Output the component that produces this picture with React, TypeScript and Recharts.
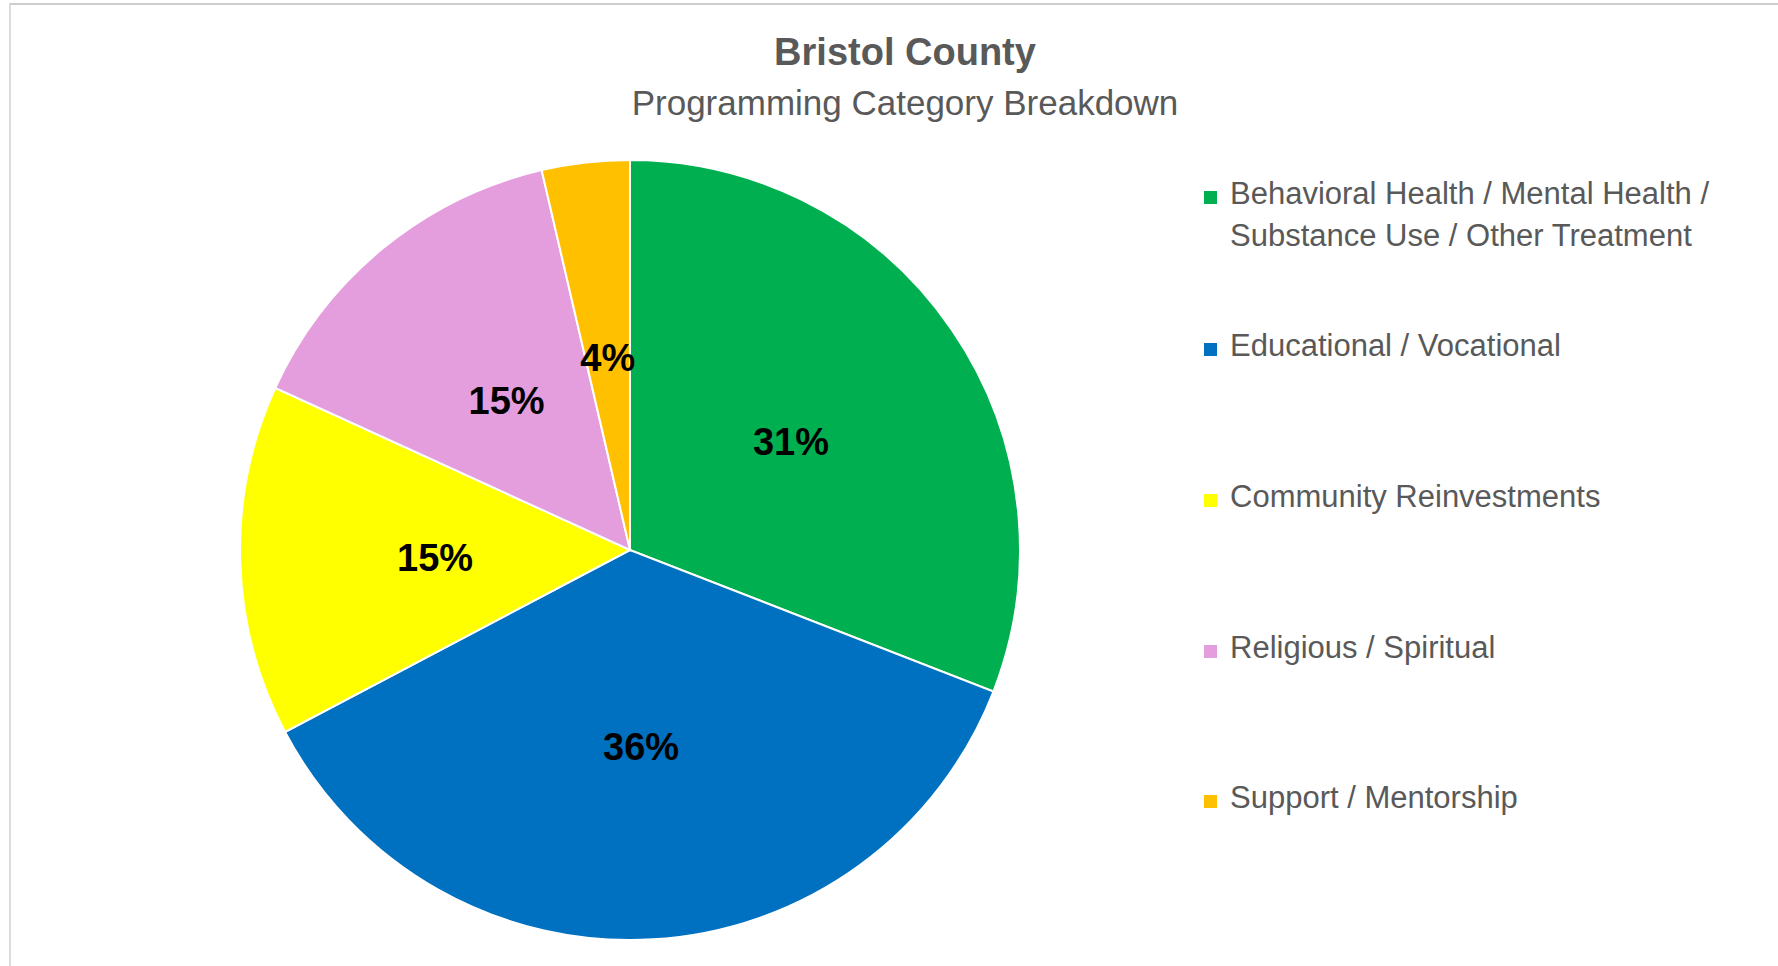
import { PieChart, Pie, Cell, Legend } from "recharts";

const categories = [
    "Behavioral Health / Mental Health / Substance Use / Other Treatment",
    "Educational / Vocational",
    "Community Reinvestments",
    "Religious / Spiritual",
    "Support / Mentorship",
];
const programCounts = [17, 20, 8, 8, 2];
const sliceColors = ["#00B050", "#0070C0", "#FFFF00", "#E49EDD", "#FFC000"];

const title = "Bristol County";
const subtitle = "Programming Category Breakdown";

const data = categories.map((name, i) => ({ name, value: programCounts[i] }));

const RADIAN = Math.PI / 180;
const FONT = "'Liberation Sans', Arial, sans-serif";
const GRAY = "#595959";

// gaps between legend rows, to match Excel's spacing
const legendGaps = [0, 68, 109, 109, 108];

function renderLabel(props: any) {
    const { cx, cy, midAngle, outerRadius, percent } = props;
    const r = outerRadius * 0.5;
    const x = cx + r * Math.cos(-midAngle * RADIAN);
    const y = cy + r * Math.sin(-midAngle * RADIAN) + 2;
    return (
        <text
            x={x}
            y={y}
            fill="#000"
            textAnchor="middle"
            dominantBaseline="central"
            fontFamily={FONT}
            fontWeight="bold"
            fontSize={38}
        >
            {`${Math.round(percent * 100)}%`}
        </text>
    );
}

function renderLegend() {
    return (
        <div style={{ fontFamily: FONT, fontSize: 31, lineHeight: "42px", color: GRAY }}>
            {data.map((d, i) => (
                <div key={d.name} style={{ display: "flex", marginTop: legendGaps[i] }}>
                    <div style={{ width: 13, height: 13, background: sliceColors[i], marginTop: 18, marginRight: 13, flex: "none" }} />
                    <div style={{ width: 500 }}>{d.name}</div>
                </div>
            ))}
        </div>
    );
}

export default function App() {
    return (
        <div style={{ position: "absolute", left: 0, top: 0, width: 1778, height: 966, background: "#fff", overflow: "hidden" }}>
            <div style={{ position: "absolute", left: 9, top: 3, width: 1800, height: 1000, borderTop: "2px solid #cdcdcd", borderLeft: "2px solid #dcdcdc" }} />
            <svg style={{ position: "absolute", left: 0, top: 0 }} width={1778} height={130}>
                <text x={905} y={65} textAnchor="middle" fontFamily={FONT} fontWeight="bold" fontSize={38} fill={GRAY}>
                    {title}
                </text>
                <text x={905} y={115} textAnchor="middle" fontFamily={FONT} fontSize={35} fill={GRAY}>
                    {subtitle}
                </text>
            </svg>
            <div style={{ position: "absolute", left: 0, top: 0 }}>
                <PieChart width={1778} height={966} margin={{ top: 0, right: 0, bottom: 0, left: 0 }}>
                    <Pie
                        data={data}
                        dataKey="value"
                        nameKey="name"
                        cx={630}
                        cy={550}
                        outerRadius={390}
                        startAngle={90}
                        endAngle={-270}
                        stroke="#fff"
                        strokeWidth={2}
                        label={renderLabel}
                        labelLine={false}
                        isAnimationActive={false}
                    >
                        {data.map((entry, index) => (
                            <Cell key={entry.name} fill={sliceColors[index]} />
                        ))}
                    </Pie>
                    <Legend
                        layout="vertical"
                        align="right"
                        verticalAlign="top"
                        content={renderLegend}
                        wrapperStyle={{ left: 1204, top: 173, width: 540, right: "auto" }}
                    />
                </PieChart>
            </div>
        </div>
    );
}
